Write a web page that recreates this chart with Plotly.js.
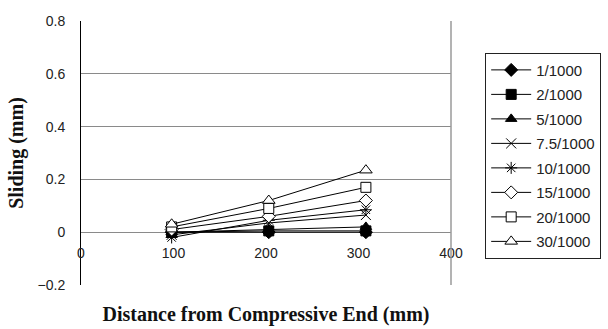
<!DOCTYPE html>
<html>
<head>
<meta charset="utf-8">
<script src="https://cdn.plot.ly/plotly-3.0.1.min.js"></script>
<style>html,body{margin:0;padding:0;background:#fff}#chart{width:608px;height:329px}</style>
</head>
<body>
<div id="chart"></div>
<script>
// Data
var distance = [98, 203, 308];
var seriesNames = ["1/1000", "2/1000", "5/1000", "7.5/1000", "10/1000", "15/1000", "20/1000", "30/1000"];
var s1 = [0.0, 0.0, 0.0];
var s2 = [0.0, 0.005, 0.005];
var s5 = [0.0, 0.01, 0.02];
var s7_5 = [-0.01, 0.035, 0.065];
var s10 = [-0.02, 0.045, 0.085];
var s15 = [0.01, 0.06, 0.12];
var s20 = [0.02, 0.09, 0.17];
var s30 = [0.03, 0.12, 0.235];
var seriesValues = [s1, s2, s5, s7_5, s10, s15, s20, s30];

var xTickVals = [0, 100, 200, 300, 400];
var xTickText = ["0", "100", "200", "300", "400"];
var yTickVals = [-0.2, 0, 0.2, 0.4, 0.6, 0.8];
var yTickText = ["\u22120.2", "0", "0.2", "0.4", "0.6", "0.8"];

var symbols = ["diamond", "square", "triangle-up", "x-thin-open", "asterisk-open", "diamond", "square", "triangle-up"];
var fills = ["black", "black", "black", "black", "black", "white", "white", "white"];
var sizes = [10, 10, 10, 10, 10, 10, 10, 11];

var traces = seriesNames.map(function (name, i) {
  return {
    type: "scatter",
    mode: "lines+markers",
    name: name,
    legendgroup: "g" + i,
    x: distance,
    y: seriesValues[i],
    line: {color: "black", width: 1},
    marker: {
      symbol: symbols[i],
      size: sizes[i],
      color: fills[i],
      line: {color: "black", width: 1}
    }
  };
});

var layout = {
  width: 608,
  height: 329,
  margin: {l: 81, r: 157, t: 21, b: 44},
  paper_bgcolor: "white",
  plot_bgcolor: "white",
  showlegend: true,
  font: {family: "Liberation Sans, Arial, sans-serif", size: 14, color: "#222"},
  xaxis: {
    range: [0, 400],
    tickvals: xTickVals,
    ticktext: xTickText,
    showgrid: false,
    zeroline: false,
    showline: false,
    anchor: "free",
    position: 0.2,
    ticks: "",
    ticklabelstandoff: 11,
    tickfont: {family: "Liberation Sans, Arial, sans-serif", size: 14, color: "#222"},
    title: {
      text: "Distance from Compressive End (mm)",
      font: {family: "Liberation Serif, Times New Roman, serif", size: 20, color: "#111", weight: "bold"},
      standoff: 46
    }
  },
  yaxis: {
    range: [-0.2, 0.8],
    tickvals: yTickVals,
    ticktext: yTickText,
    showgrid: true,
    gridcolor: "#8a8a8a",
    gridwidth: 1,
    zeroline: false,
    showline: true,
    linecolor: "black",
    linewidth: 1,
    ticks: "",
    ticklabelstandoff: 12,
    tickfont: {family: "Liberation Sans, Arial, sans-serif", size: 14, color: "#222"},
    title: {
      text: "Sliding (mm)",
      font: {family: "Liberation Serif, Times New Roman, serif", size: 20, color: "#111", weight: "bold"},
      standoff: 8
    }
  },
  shapes: [
    {type: "line", xref: "paper", yref: "paper", x0: 1, x1: 1, y0: 0, y1: 1, line: {color: "#9a9a9a", width: 1.5}}
  ],
  legend: {
    xref: "container",
    yref: "container",
    x: 0.798,
    xanchor: "left",
    y: 0.84,
    yanchor: "top",
    maxheight: 300,
    bordercolor: "#222",
    borderwidth: 1,
    bgcolor: "white",
    tracegroupgap: 2,
    itemwidth: 40,
    font: {family: "Liberation Sans, Arial, sans-serif", size: 15, color: "#222"}
  }
};

Plotly.newPlot("chart", traces, layout, {displayModeBar: false, staticPlot: true});
</script>
</body>
</html>
